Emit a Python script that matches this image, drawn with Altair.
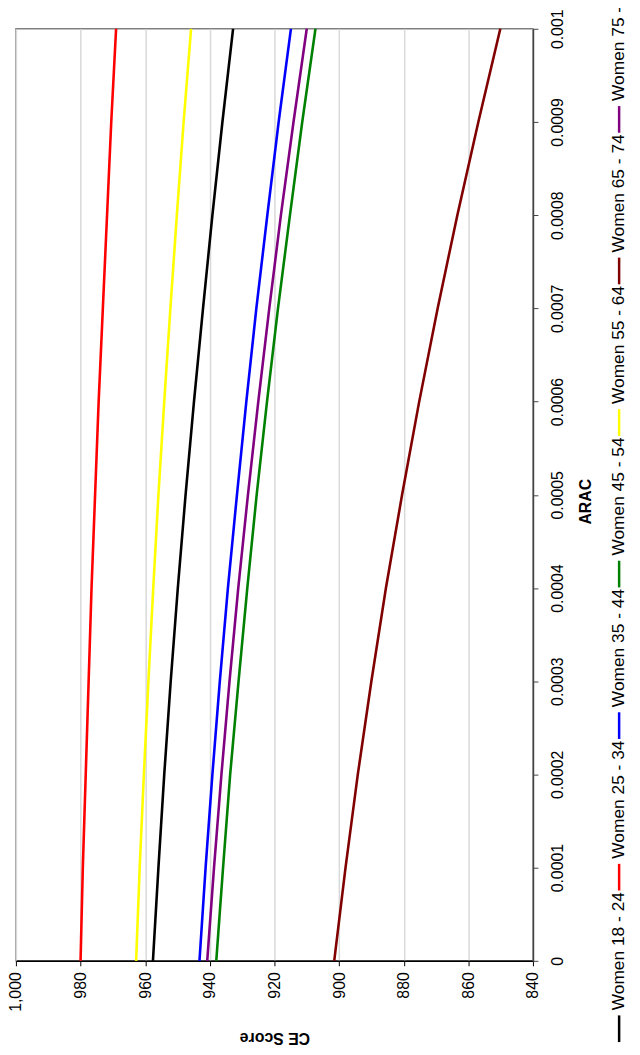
import altair as alt
import pandas as pd

# ---- data ----
arac = [0.0, 0.0001, 0.0002, 0.0003, 0.0004, 0.0005, 0.0006, 0.0007, 0.0008, 0.0009, 0.001]
series_names = ["Women 18 - 24", "Women 25 - 34", "Women 35 - 44", "Women 45 - 54",
                "Women 55 - 64", "Women 65 - 74", "Women 75 -"]
series_colors = ["#000000", "#FF0000", "#0000FF", "#008000", "#FFFF00", "#800000", "#800080"]

w18_24 = [957.6, 955.9, 954.1, 952.1, 949.9, 947.5, 944.9, 942.1, 939.2, 936.1, 932.8]
w25_34 = [980.0, 979.3, 978.4, 977.5, 976.6, 975.5, 974.4, 973.1, 971.8, 970.5, 969.0]
w35_44 = [943.2, 941.3, 939.2, 936.9, 934.4, 931.6, 928.7, 925.6, 922.2, 918.7, 914.9]
w45_54 = [938.0, 935.9, 933.7, 931.1, 928.4, 925.5, 922.3, 918.9, 915.2, 911.4, 907.3]
w55_64 = [962.8, 961.7, 960.4, 959.0, 957.5, 955.9, 954.1, 952.2, 950.2, 948.1, 945.8]
w65_74 = [901.5, 898.0, 894.2, 890.0, 885.5, 880.5, 875.2, 869.5, 863.4, 856.9, 850.1]
w75 = [940.8, 938.7, 936.4, 933.9, 931.2, 928.2, 925.0, 921.6, 918.0, 914.1, 910.0]

ce_ticks = [1000, 980, 960, 940, 920, 900, 880, 860, 840]
arac_ticks = arac

series_values = [w18_24, w25_34, w35_44, w45_54, w55_64, w65_74, w75]

rows = []
for name, vals in zip(series_names, series_values):
    for a, v in zip(arac, vals):
        rows.append({"series": name, "arac": a, "ce": v})
df = pd.DataFrame(rows)

legdf = pd.DataFrame({"series": series_names, "idx": list(range(len(series_names)))})

FONT = "Liberation Sans Narrow, Arial Narrow, Liberation Sans, Arial"

color_scale = alt.Scale(domain=series_names, range=series_colors)

lines = alt.Chart(df).mark_line(strokeWidth=2.6).encode(
    x=alt.X(
        "ce:Q",
        scale=alt.Scale(domain=[840, 1000], reverse=True, nice=False, zero=False),
        axis=alt.Axis(
            values=ce_ticks, format=",.0f", title="CE Score",
            labelAngle=270, labelAlign="right", labelBaseline="middle",
            labelPadding=6, tickSize=5, tickColor="#000000",
            domainColor="#000000", domainWidth=1.5,
            grid=True, gridColor="#d9d9d9", gridWidth=1.5,
            titleAngle=180, titleBaseline="middle", titleY=77,
            titleFontWeight="bold", titleFontSize=16,
        ),
    ),
    y=alt.Y(
        "arac:Q",
        scale=alt.Scale(domain=[0, 0.001], nice=False, zero=False),
        axis=alt.Axis(
            orient="right", values=arac_ticks, format="~g", title="ARAC",
            labelAngle=270, labelAlign="center", labelBaseline="top",
            labelPadding=12, tickSize=5, tickColor="#444444",
            domainColor="#444444", domainWidth=1.5, grid=False,
            titleAngle=270, titleAlign="center", titleBaseline="middle",
            titleX=53, titleY=477, titleFontWeight="bold", titleFontSize=16,
        ),
    ),
    color=alt.Color("series:N", scale=color_scale, legend=None),
    order=alt.Order("arac:Q"),
)

leg_scale = alt.Scale(domain=[0.536, 6.686], nice=False, zero=False)
leg = alt.Chart(legdf).transform_calculate(sy2="datum.idx + 0.176", ty="datum.idx + 0.21")

swatch = leg.mark_rule(strokeWidth=2.5).encode(
    x=alt.value(609),
    y=alt.Y("idx:Q", scale=leg_scale, axis=None),
    y2="sy2:Q",
    color=alt.Color("series:N", scale=color_scale, legend=None),
)

labels = leg.mark_text(angle=270, align="left", baseline="middle", fontSize=17.5,
                       font=FONT, color="#000000").encode(
    x=alt.value(609),
    y=alt.Y("ty:Q", scale=leg_scale, axis=None),
    text="series:N",
)

chart = alt.layer(lines, swatch, labels).resolve_scale(y="independent").properties(
    width=522, height=941,
    autosize=alt.AutoSizeParams(type="none"),
    padding={"left": 8, "top": 16, "right": 100, "bottom": 82},
).configure_view(
    stroke="#808080", strokeWidth=1.5
).configure_axis(
    labelFont=FONT, titleFont=FONT, labelFontSize=16, labelColor="#000000",
    titleColor="#000000",
)

chart.save("out.html", embed_options={"renderer": "svg", "actions": False})
